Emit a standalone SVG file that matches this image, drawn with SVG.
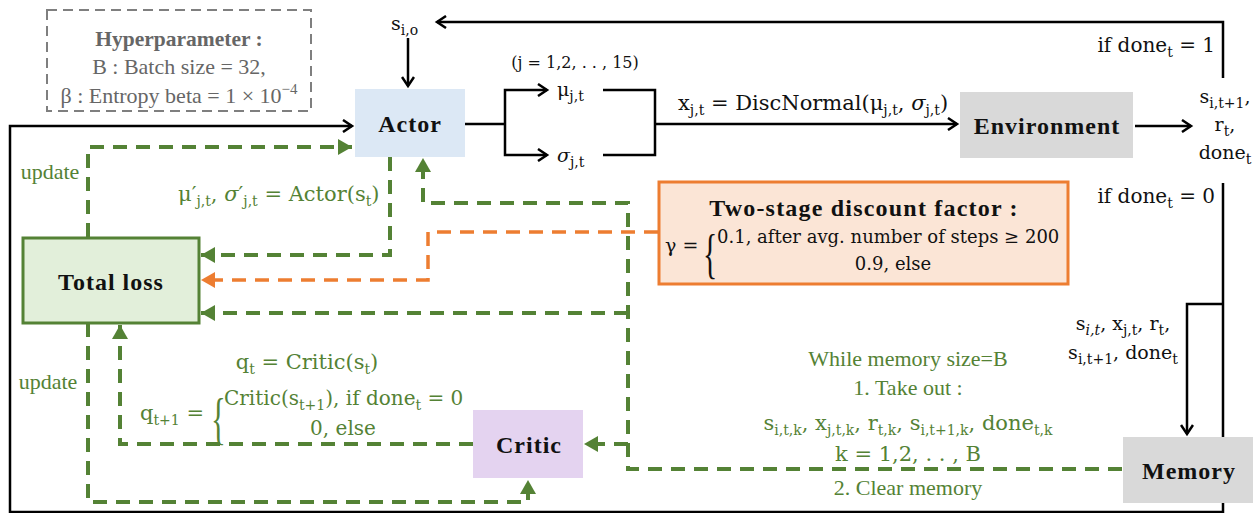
<svg xmlns="http://www.w3.org/2000/svg" width="1260" height="513" viewBox="0 0 1260 513">
<defs>
<style>
text{font-family:"Liberation Serif",serif;}
.m{font-family:"DejaVu Serif","Liberation Serif",serif;}
.b{font-weight:bold;fill:#111;}
.lbl{font-size:24px;text-anchor:middle;letter-spacing:1px;}
.g{fill:#548235;}
.k{fill:#111;}
.gr{fill:#666;}
.blk{fill:none;stroke:#000;stroke-width:2.5;}
.gd{fill:none;stroke:#548235;stroke-width:4;stroke-dasharray:14 9;}
.od{fill:none;stroke:#ed7d31;stroke-width:3.5;stroke-dasharray:14 9;}
.sub{font-size:14px;}
</style>
<marker id="ab" markerUnits="userSpaceOnUse" markerWidth="14" markerHeight="14" refX="11" refY="7" orient="auto">
<path d="M2,1 L11,7 L2,13" fill="none" stroke="#000" stroke-width="2.5"/>
</marker>
<marker id="ag" markerUnits="userSpaceOnUse" markerWidth="14" markerHeight="16" refX="14" refY="8" orient="auto">
<path d="M0,0 L14,8 L0,16 z" fill="#548235"/>
</marker>
<marker id="ao" markerUnits="userSpaceOnUse" markerWidth="14" markerHeight="16" refX="14" refY="8" orient="auto">
<path d="M0,0 L14,8 L0,16 z" fill="#ed7d31"/>
</marker>
</defs>
<rect width="1260" height="513" fill="#fff"/>

<g id="connectors">
<path class="blk" d="M408,38 V86" marker-end="url(#ab)"/>
<path class="blk" d="M1223,78 V22 H437" marker-end="url(#ab)"/>
<path class="blk" d="M465,124 H505"/>
<path class="blk" d="M505,124 V90 H547" marker-end="url(#ab)"/>
<path class="blk" d="M505,124 V155 H547" marker-end="url(#ab)"/>
<path class="blk" d="M603,90 H655 V155 H603"/>
<path class="blk" d="M655,124 H957" marker-end="url(#ab)"/>
<path class="blk" d="M1135,126 H1191" marker-end="url(#ab)"/>
<path class="blk" d="M1223,183 V512 H10 V126 H352" marker-end="url(#ab)"/>
<path class="blk" d="M1223,304 H1187 V434" marker-end="url(#ab)"/>

<path class="gd" d="M88,237 V147 H352" marker-end="url(#ag)"/>
<path class="gd" d="M390,157 V255 H201" marker-end="url(#ag)"/>
<path class="od" d="M658,232 H428 V280 H201" marker-end="url(#ao)"/>
<path class="gd" d="M1122,469 H628 V203 H423 V158" marker-end="url(#ag)"/>
<path class="gd" d="M628,313 H201" marker-end="url(#ag)"/>
<path class="gd" d="M628,444 H584" marker-end="url(#ag)"/>
<path class="gd" d="M473,444 H120 V325" marker-end="url(#ag)"/>
<path class="gd" d="M88,323 V502 H528 V480" marker-end="url(#ag)"/>
</g>

<g id="hyperparameter">
<rect x="47" y="10" width="264" height="101" fill="none" stroke="#7f7f7f" stroke-width="2" stroke-dasharray="10 6"/>
<text x="179" y="46" text-anchor="middle" font-size="21.5" font-weight="bold" class="gr">Hyperparameter :</text>
<text x="179" y="74" text-anchor="middle" font-size="22" class="gr">B : Batch size = 32,</text>
<text x="179" y="103" text-anchor="middle" font-size="22" class="gr">β : Entropy beta = 1 × 10<tspan font-size="15" dy="-9">−4</tspan></text>
</g>

<g id="actor">
<rect x="355" y="89" width="110" height="68" fill="#dce8f5"/>
<text x="410" y="132" class="b lbl">Actor</text>
</g>

<g id="environment">
<rect x="960" y="92" width="173" height="66" fill="#d9d9d9"/>
<text x="1047" y="134" class="b lbl">Environment</text>
</g>

<g id="total-loss">
<rect x="23" y="238" width="176" height="85" fill="#e2efda" stroke="#548235" stroke-width="3"/>
<text x="111" y="290" class="b lbl">Total loss</text>
</g>

<g id="critic">
<rect x="473" y="410" width="110" height="68" fill="#e4d3f0"/>
<text x="529" y="453" class="b lbl">Critic</text>
</g>

<g id="memory">
<rect x="1123" y="437" width="130" height="66" fill="#d9d9d9"/>
<text x="1189" y="479" class="b lbl">Memory</text>
</g>

<g id="discount">
<rect x="659" y="182" width="409" height="102" fill="#fbe5d6" stroke="#ed7d31" stroke-width="3"/>
<text x="864" y="216" font-size="24" font-weight="bold" text-anchor="middle" letter-spacing="1.2" class="k">Two-stage discount factor :</text>
<text x="665" y="252" font-size="19" class="k m">γ =</text>
<text x="0" y="0" font-size="54" class="k" transform="translate(703,272) scale(0.55,1)">{</text>
<text x="717" y="243" font-size="18" class="k m">0.1, after avg. number of steps  ≥ 200</text>
<text x="893" y="270" font-size="18" text-anchor="middle" class="k m">0.9, else</text>
</g>

<g id="labels">
<text x="391" y="30" font-size="19" class="k m">s<tspan class="sub" dy="5">i,o</tspan></text>
<text x="575" y="68" font-size="16" text-anchor="middle" class="k m">(j = 1,2, . . , 15)</text>
<text x="557" y="96" font-size="19" class="k m">μ<tspan class="sub" dy="5">j,t</tspan></text>
<text x="557" y="162" font-size="19" class="k m"><tspan font-style="italic">σ</tspan><tspan class="sub" dy="5">j,t</tspan></text>
<text x="678" y="110" font-size="21" class="k m">x<tspan class="sub" dy="5">j,t</tspan><tspan dy="-5"> = DiscNormal(μ</tspan><tspan class="sub" dy="5">j,t</tspan><tspan dy="-5">, </tspan><tspan font-style="italic">σ</tspan><tspan class="sub" dy="5">j,t</tspan><tspan dy="-5">)</tspan></text>
<text x="1215" y="52" font-size="20" text-anchor="end" class="k m">if done<tspan class="sub" dy="5">t</tspan><tspan dy="-5"> = 1</tspan></text>
<text x="1215" y="203" font-size="20" text-anchor="end" class="k m">if done<tspan class="sub" dy="5">t</tspan><tspan dy="-5"> = 0</tspan></text>
<text x="1225" y="103" font-size="19" text-anchor="middle" class="k m">s<tspan class="sub" dy="5">i,t+1</tspan><tspan dy="-5">,</tspan></text>
<text x="1225" y="131" font-size="19" text-anchor="middle" class="k m">r<tspan class="sub" dy="5">t</tspan><tspan dy="-5">,</tspan></text>
<text x="1225" y="159" font-size="19" text-anchor="middle" class="k m">done<tspan class="sub" dy="5">t</tspan></text>
<text x="1123" y="330" font-size="19" text-anchor="middle" class="k m">s<tspan class="sub" dy="5" font-style="italic">i,t</tspan><tspan dy="-5">, x</tspan><tspan class="sub" dy="5">j,t</tspan><tspan dy="-5">, r</tspan><tspan class="sub" dy="5">t</tspan><tspan dy="-5">,</tspan></text>
<text x="1123" y="359" font-size="19" text-anchor="middle" class="k m">s<tspan class="sub" dy="5">i,t+1</tspan><tspan dy="-5">, done</tspan><tspan class="sub" dy="5">t</tspan></text>

<text x="50" y="179" font-size="22" text-anchor="middle" class="g">update</text>
<text x="48" y="389" font-size="22" text-anchor="middle" class="g">update</text>
<text x="178" y="201" font-size="21" class="g m">μ′<tspan class="sub" dy="5">j,t</tspan><tspan dy="-5">, </tspan><tspan font-style="italic">σ</tspan><tspan>′</tspan><tspan class="sub" dy="5">j,t</tspan><tspan dy="-5"> = Actor(s</tspan><tspan class="sub" dy="5">t</tspan><tspan dy="-5">)</tspan></text>
<text x="307" y="369" font-size="21" text-anchor="middle" class="g m">q<tspan class="sub" dy="5">t</tspan><tspan dy="-5"> = Critic(s</tspan><tspan class="sub" dy="5">t</tspan><tspan dy="-5">)</tspan></text>
<text x="140" y="420" font-size="21" class="g m">q<tspan class="sub" dy="5">t+1</tspan><tspan dy="-5"> =</tspan></text>
<text x="0" y="0" font-size="56" class="g" transform="translate(211,438) scale(0.55,1)">{</text>
<text x="224" y="405" font-size="20" class="g m">Critic(s<tspan class="sub" dy="5">t+1</tspan><tspan dy="-5">), if done</tspan><tspan class="sub" dy="5">t</tspan><tspan dy="-5"> = 0</tspan></text>
<text x="343" y="435" font-size="20" text-anchor="middle" class="g m">0, else</text>

<text x="908" y="366" font-size="22" text-anchor="middle" class="g">While memory size=B</text>
<text x="908" y="395" font-size="22" text-anchor="middle" class="g">1. Take out :</text>
<text x="908" y="430" font-size="21" text-anchor="middle" class="g m">s<tspan class="sub" dy="5">i,t,k</tspan><tspan dy="-5">, x</tspan><tspan class="sub" dy="5">j,t,k</tspan><tspan dy="-5">, r</tspan><tspan class="sub" dy="5">t,k</tspan><tspan dy="-5">, s</tspan><tspan class="sub" dy="5">i,t+1,k</tspan><tspan dy="-5">, done</tspan><tspan class="sub" dy="5">t,k</tspan></text>
<text x="908" y="461" font-size="21" text-anchor="middle" class="g m">k = 1,2, . . , B</text>
<text x="908" y="495" font-size="22" text-anchor="middle" class="g">2. Clear memory</text>
</g>
</svg>
